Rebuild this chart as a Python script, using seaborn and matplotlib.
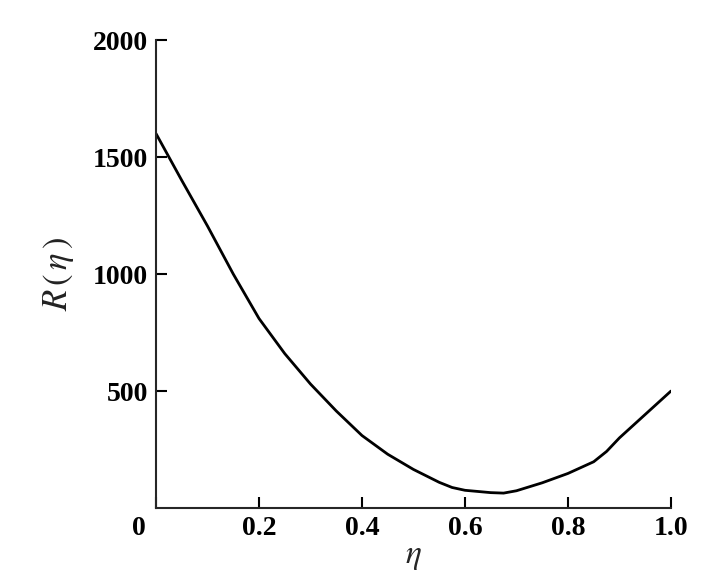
import numpy as np
import pandas as pd
import matplotlib
matplotlib.use("Agg")
import matplotlib.pyplot as plt
import matplotlib.transforms as mtransforms
import seaborn as sns

# values
eta = [0.00, 0.05, 0.10, 0.15, 0.20, 0.25, 0.30, 0.35, 0.40, 0.45, 0.50,
       0.55, 0.575, 0.60, 0.65, 0.675, 0.70, 0.75, 0.80, 0.85, 0.875,
       0.90, 0.95, 1.00]
r_eta = [1600, 1400, 1205, 1000, 810, 660, 530, 415, 310, 230, 165,
         110, 88, 76, 66, 64, 74, 108, 148, 198, 242,
         300, 400, 500]
x_ticks = [0, 0.2, 0.4, 0.6, 0.8, 1.0]
x_tick_labels = ["0", "0.2", "0.4", "0.6", "0.8", "1.0"]
y_ticks = [500, 1000, 1500, 2000]

df = pd.DataFrame({"eta": eta, "R": r_eta})

sns.set_style("ticks")
plt.rcParams["font.family"] = ["Liberation Serif", "DejaVu Serif"]
plt.rcParams["mathtext.fontset"] = "stix"

fig = plt.figure(figsize=(7.23, 5.84), dpi=100)
ax = fig.add_axes([0.2158, 0.130, 0.928 - 0.2158, 0.9315 - 0.130])

sns.lineplot(data=df, x="eta", y="R", color="black", linewidth=2, ax=ax)

ax.set_xlim(0, 1.0)
ax.set_ylim(0, 2000)
ax.set_xticks(x_ticks)
ax.set_xticklabels(x_tick_labels)
ax.set_yticks(y_ticks)

sns.despine(ax=ax)
for s in ["left", "bottom"]:
    ax.spines[s].set_linewidth(1.5)
ax.tick_params(direction="in", length=8, width=1.5, labelsize=20, pad=6,
               colors="black")
for t in ax.get_xticklabels() + ax.get_yticklabels():
    t.set_fontweight("bold")

# origin label sits left of the spine
lbl0 = ax.get_xticklabels()[0]
lbl0.set_transform(lbl0.get_transform() +
                   mtransforms.ScaledTranslation(-0.17, 0, fig.dpi_scale_trans))

ax.set_xlabel(r"$\eta$", fontsize=24, labelpad=0)
ax.set_ylabel(r"$R\,(\,\eta\,)$", fontsize=25, labelpad=12, color="#222222")

fig.savefig("out.png", dpi=100)
